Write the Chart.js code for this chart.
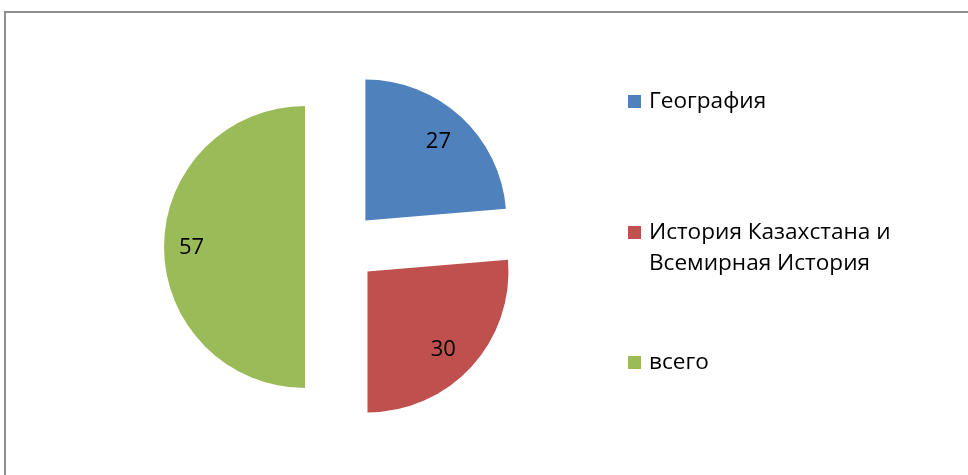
<!DOCTYPE html>
<html>
<head>
<meta charset="utf-8">
<script src="https://cdn.jsdelivr.net/npm/chart.js@4"></script>
<style>
  html, body { margin: 0; padding: 0; background: #fff; }
  #wrap { position: relative; width: 968px; height: 475px; }
  #frame { position: absolute; left: 4px; top: 11px; right: -4px; bottom: -4px;
           border-top: 2px solid #8e8e8e; border-left: 2px solid #8e8e8e; }
  canvas { position: absolute; left: 0; top: 0; }
</style>
</head>
<body>
<div id="wrap">
  <div id="frame"></div>
  <canvas id="pieChart" width="968" height="475"></canvas>
</div>
<script>
// chart data
var categories = ['География', ['История Казахстана и', 'Всемирная История'], 'всего'];
var values = [27, 30, 57];
var colors = ['#4F81BD', '#C0504D', '#9BBB59'];

var FONT = '"Open Sans", "Noto Sans", sans-serif';
var EXPLODE = 36; // px each slice is pulled out from the centre

// draw every arc pushed out along its bisector (same distance for all)
var explodeSlices = {
  id: 'explodeSlices',
  beforeDatasetDraw: function(chart, args) {
    var ctx = chart.ctx;
    args.meta.data.forEach(function(arc) {
      var p = arc.getProps(['startAngle', 'endAngle']);
      var mid = (p.startAngle + p.endAngle) / 2;
      ctx.save();
      ctx.translate(Math.cos(mid) * EXPLODE, Math.sin(mid) * EXPLODE);
      arc.draw(ctx);
      ctx.restore();
    });
    return false;
  }
};

// value labels drawn inside each slice
var sliceLabels = {
  id: 'sliceLabels',
  afterDatasetsDraw: function(chart) {
    var ctx = chart.ctx;
    var meta = chart.getDatasetMeta(0);
    var frac = [0.765, 0.77, 0.805];
    ctx.save();
    ctx.font = '22px ' + FONT;
    ctx.fillStyle = '#000';
    ctx.textAlign = 'center';
    ctx.textBaseline = 'middle';
    meta.data.forEach(function(arc, i) {
      var p = arc.getProps(['x', 'y', 'startAngle', 'endAngle', 'outerRadius']);
      var mid = (p.startAngle + p.endAngle) / 2 + (i === 1 ? 0.04 : 0);
      var d = EXPLODE + p.outerRadius * frac[i];
      ctx.fillText(chart.data.datasets[0].data[i], p.x + Math.cos(mid) * d, p.y + Math.sin(mid) * d + 1);
    });
    ctx.restore();
  }
};

// legend on the right with square markers
var sideLegend = {
  id: 'sideLegend',
  afterDraw: function(chart) {
    var ctx = chart.ctx;
    var rows = [101, 232, 362];
    ctx.save();
    ctx.font = '22.6px ' + FONT;
    ctx.textBaseline = 'middle';
    chart.data.labels.forEach(function(label, i) {
      var lines = Array.isArray(label) ? label : [label];
      ctx.fillStyle = chart.data.datasets[0].backgroundColor[i];
      ctx.fillRect(628, rows[i] - 6, 13, 13);
      ctx.fillStyle = '#000';
      lines.forEach(function(t, j) {
        ctx.fillText(t, 649, rows[i] + 1 + j * 31);
      });
    });
    ctx.restore();
  }
};

var ctx = document.getElementById('pieChart').getContext('2d');
var pieChart = new Chart(ctx, {
  type: 'pie',
  data: {
    labels: categories,
    datasets: [{
      data: values,
      backgroundColor: colors,
      borderWidth: 0,
      radius: 141
    }]
  },
  options: {
    responsive: false,
    animation: false,
    layout: { padding: { left: 20, right: 306, top: 28, bottom: 9 } },
    plugins: {
      legend: { display: false },
      tooltip: { enabled: false }
    }
  },
  plugins: [explodeSlices, sliceLabels, sideLegend]
});
</script>
</body>
</html>
